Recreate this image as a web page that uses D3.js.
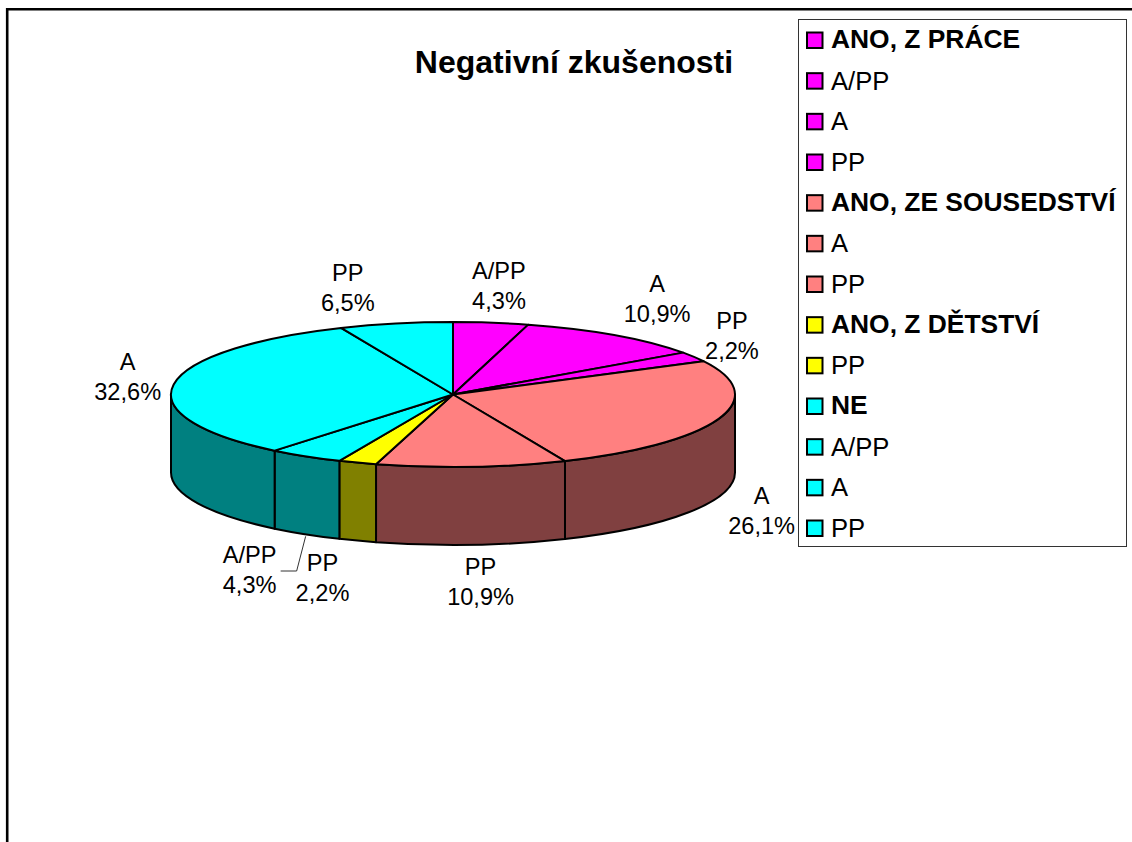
<!DOCTYPE html>
<html>
<head>
<meta charset="utf-8">
<script src="https://cdn.jsdelivr.net/npm/d3@7"></script>
<style>
  html, body { margin: 0; padding: 0; background: #fff; }
  svg { display: block; }
  text { font-family: "Liberation Sans", Arial, sans-serif; fill: #000; }
</style>
</head>
<body>
<div id="chart"></div>
<script>
// chart values
var title = 'Negativní zkušenosti';
var sliceLabels = ['A/PP', 'A', 'PP', 'A', 'PP', 'PP', 'A/PP', 'A', 'PP'];
var sliceValues = [4.3, 10.9, 2.2, 26.1, 10.9, 2.2, 4.3, 32.6, 6.5];
var sliceGroups = ['prace', 'prace', 'prace', 'sousedstvi', 'sousedstvi', 'detstvi', 'ne', 'ne', 'ne'];

var legendLabels = ['ANO, Z PRÁCE', 'A/PP', 'A', 'PP', 'ANO, ZE SOUSEDSTVÍ', 'A', 'PP', 'ANO, Z DĚTSTVÍ', 'PP', 'NE', 'A/PP', 'A', 'PP'];
var legendGroups = ['prace', 'prace', 'prace', 'prace', 'sousedstvi', 'sousedstvi', 'sousedstvi', 'detstvi', 'detstvi', 'ne', 'ne', 'ne', 'ne'];
var legendBold = [true, false, false, false, true, false, false, true, false, true, false, false, false];

var groupNames = ['prace', 'sousedstvi', 'detstvi', 'ne'];
var topColors = ['#ff00ff', '#ff8080', '#ffff00', '#00ffff'];
var sideColors = ['#800080', '#804040', '#808000', '#008080'];

// where each label sits relative to the rim point of its slice
var labelDx = [8, 42, 38, 43, 9, -35, -56, -46, -48];
var labelDy = [-44, -43, -28, 85, 108, 108, 107, -15, -43];

var width = 1132, height = 842;
var cx = 453, cy = 394.5, rx = 282, ry = 72.5, depth = 78;

var svg = d3.select('#chart').append('svg')
	.attr('width', width)
	.attr('height', height);

// outer frame, runs off the right and bottom of the page
svg.append('path')
	.attr('d', 'M7.2,' + height + 'V9.2H' + width)
	.attr('fill', 'none')
	.attr('stroke', '#000')
	.attr('stroke-width', 2.6);

svg.append('text')
	.attr('x', 574)
	.attr('y', 73)
	.attr('text-anchor', 'middle')
	.attr('font-size', 32)
	.attr('font-weight', 'bold')
	.text(title);

var topColor = d3.scaleOrdinal().domain(groupNames).range(topColors);
var sideColor = d3.scaleOrdinal().domain(groupNames).range(sideColors);

var pie = d3.pie().sort(null).value(function(d){ return d; });
var slices = pie(sliceValues);

function rim(a, dy) {
	return [cx + rx * Math.sin(a), cy - ry * Math.cos(a) + (dy || 0)];
}

// side walls, only the part of the rim facing the viewer
var walls = svg.append('g');
slices.forEach(function(d, i){
	var a0 = Math.max(d.startAngle, Math.PI / 2);
	var a1 = Math.min(d.endAngle, Math.PI * 1.5);
	if (a1 <= a0) return;
	var p0 = rim(a0), p1 = rim(a1), q0 = rim(a0, depth), q1 = rim(a1, depth);
	var dPath = 'M' + p0 + 'A' + rx + ',' + ry + ' 0 0 1 ' + p1 +
		'L' + q1 + 'A' + rx + ',' + ry + ' 0 0 0 ' + q0 + 'Z';
	walls.append('path')
		.attr('d', dPath)
		.attr('fill', sideColor(sliceGroups[i]))
		.attr('stroke', '#000')
		.attr('stroke-width', 2)
		.attr('stroke-linejoin', 'round');
});

// top face: a normal pie squashed into an ellipse
var arc = d3.arc().innerRadius(0).outerRadius(rx);
svg.append('g')
	.attr('transform', 'translate(' + cx + ',' + cy + ') scale(1,' + (ry / rx) + ')')
	.selectAll('path')
	.data(slices)
	.enter().append('path')
	.attr('d', arc)
	.attr('fill', function(d, i){ return topColor(sliceGroups[i]); })
	.attr('stroke', '#000')
	.attr('stroke-width', 2)
	.attr('stroke-linejoin', 'round')
	.attr('vector-effect', 'non-scaling-stroke');

// data labels
var labels = svg.append('g')
	.attr('text-anchor', 'middle');

slices.forEach(function(d, i){
	var p = rim((d.startAngle + d.endAngle) / 2);
	var x = p[0] + labelDx[i], y = p[1] + labelDy[i];
	labels.append('text').attr('x', x).attr('y', y)
		.attr('font-size', 23.6).text(sliceLabels[i]);
	labels.append('text').attr('x', x).attr('y', y + 30)
		.attr('font-size', 23.6).text(sliceValues[i].toFixed(1).replace('.', ',') + '%');
});

// leader line of the second A/PP label
var leadFrom = rim((slices[6].startAngle + slices[6].endAngle) / 2, depth + 2);
svg.append('path')
	.attr('d', 'M' + leadFrom + 'L' + (leadFrom[0] - 9) + ',571H' + (leadFrom[0] - 25))
	.attr('fill', 'none')
	.attr('stroke', '#333')
	.attr('stroke-width', 1);

// legend
svg.append('rect')
	.attr('x', 798.5)
	.attr('y', 19.5)
	.attr('width', 328)
	.attr('height', 527)
	.attr('fill', '#fff')
	.attr('stroke', '#333')
	.attr('stroke-width', 1);

var legendY = d3.scalePoint()
	.domain(d3.range(legendLabels.length))
	.range([40, 528]);

var item = svg.append('g').selectAll('g')
	.data(legendLabels)
	.enter().append('g')
	.attr('transform', function(d, i){ return 'translate(0,' + legendY(i) + ')'; });

item.append('rect')
	.attr('x', 807)
	.attr('y', -7.5)
	.attr('width', 15.5)
	.attr('height', 15.5)
	.attr('fill', function(d, i){ return topColor(legendGroups[i]); })
	.attr('stroke', '#000')
	.attr('stroke-width', 2);

item.append('text')
	.attr('x', 831)
	.attr('y', function(d, i){ return legendBold[i] ? 8 : 9; })
	.attr('font-size', function(d, i){ return legendBold[i] ? 26.4 : 25.6; })
	.attr('font-weight', function(d, i){ return legendBold[i] ? 'bold' : 'normal'; })
	.text(function(d){ return d; });
</script>
</body>
</html>
